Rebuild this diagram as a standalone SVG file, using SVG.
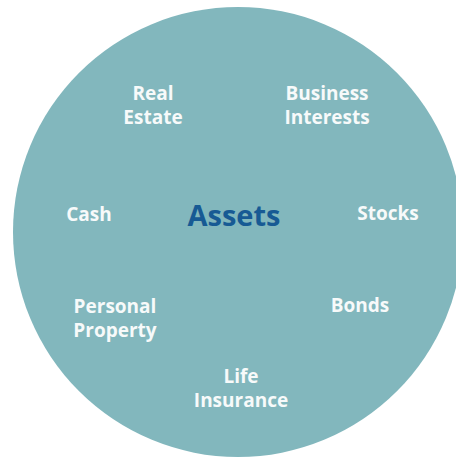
<svg xmlns="http://www.w3.org/2000/svg" width="456" height="458" viewBox="0 0 456 458">
<style>
.lbl{font-family:"Open Sans","Noto Sans",sans-serif;font-weight:bold;font-size:19px;fill:#F7FAFA;text-anchor:middle}
.center{font-family:"Open Sans","Noto Sans",sans-serif;font-weight:bold;font-size:29px;fill:#175A94;text-anchor:middle}
</style>
<rect width="456" height="458" fill="#FFFFFF"/>
<g id="circle"><circle cx="238" cy="232" r="225" fill="#82B7BD"/></g>
<g id="connectors"></g>
<g id="assets"><text class="center" x="234" y="226">Assets</text></g>
<g id="real-estate"><text class="lbl" x="153" y="100">Real</text><text class="lbl" x="153" y="124">Estate</text></g>
<g id="business-interests"><text class="lbl" x="327" y="100">Business</text><text class="lbl" x="327" y="124">Interests</text></g>
<g id="cash"><text class="lbl" x="89" y="221">Cash</text></g>
<g id="stocks"><text class="lbl" x="388" y="220">Stocks</text></g>
<g id="personal-property"><text class="lbl" x="115" y="313">Personal</text><text class="lbl" x="115" y="337">Property</text></g>
<g id="bonds"><text class="lbl" x="360" y="312">Bonds</text></g>
<g id="life-insurance"><text class="lbl" x="241" y="383">Life</text><text class="lbl" x="241" y="407">Insurance</text></g>
</svg>
